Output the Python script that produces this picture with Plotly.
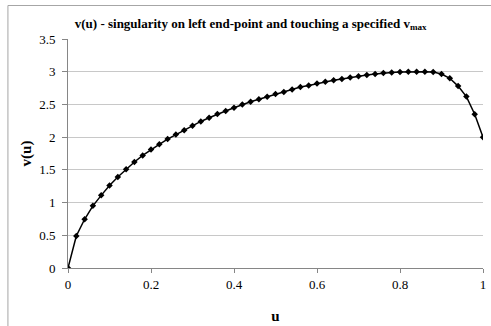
import plotly.graph_objects as go

u = [round(i * 0.02, 2) for i in range(51)]
v = [0.0, 0.49, 0.745, 0.95, 1.11, 1.26, 1.39, 1.51, 1.62, 1.72,
     1.81, 1.89, 1.97, 2.04, 2.107, 2.173, 2.24, 2.296, 2.352, 2.40,
     2.45, 2.50, 2.54, 2.58, 2.617, 2.66, 2.69, 2.73, 2.765, 2.79,
     2.82, 2.847, 2.87, 2.89, 2.913, 2.93, 2.95, 2.964, 2.98, 2.987,
     2.995, 2.998, 3.0, 3.0, 2.995, 2.965, 2.90, 2.78, 2.62, 2.35, 2.0]

x_ticks = [0, 0.2, 0.4, 0.6, 0.8, 1]
y_ticks = [0, 0.5, 1, 1.5, 2, 2.5, 3, 3.5]

W, H = 491, 326
L, R, T, B = 68, 5, 39, 58
pw, ph = W - L - R, H - T - B

def px(xp):
    return (xp - L) / pw

def py(yp):
    return (H - B - yp) / ph

font = "Liberation Serif"

fig = go.Figure()
fig.add_trace(go.Scatter(
    x=u, y=v, mode="lines+markers",
    line=dict(color="black", width=1.5),
    marker=dict(symbol="diamond", size=5, color="black"),
    showlegend=False, hoverinfo="skip",
))

fig.update_layout(
    width=W, height=H,
    margin=dict(l=L, r=R, t=T, b=B),
    paper_bgcolor="white", plot_bgcolor="white",
    font=dict(family=font, size=13, color="black"),
    title=dict(
        text="<b>v(u) - singularity on left end-point and touching a specified v<sub>max</sub></b>",
        font=dict(family=font, size=13, color="black"),
        xref="paper", x=px(252), xanchor="center",
        yref="container", y=1 - 23 / H, yanchor="middle",
    ),
    xaxis=dict(
        range=[0, 1], tickvals=x_ticks, ticktext=[f"{t:g}" for t in x_ticks],
        showgrid=False, zeroline=False,
        showline=True, linecolor="#868686", linewidth=1,
        ticks="outside", ticklen=4, tickcolor="#868686",
        tickfont=dict(family=font, size=13),
        title=dict(text="<b>u</b>", font=dict(family=font, size=15), standoff=19),
    ),
    yaxis=dict(
        range=[0, 3.5], tickvals=y_ticks, ticktext=[f"{t:g}" for t in y_ticks],
        showgrid=True, gridcolor="#c8c8c8", gridwidth=1, zeroline=False,
        showline=True, linecolor="#868686", linewidth=1,
        ticks="outside", ticklen=5, tickcolor="#868686",
        ticklabelstandoff=4,
        tickfont=dict(family=font, size=13),
        title=dict(text="<b>v(u)</b>", font=dict(family=font, size=15), standoff=3),
    ),
    shapes=[
        dict(type="line", xref="paper", yref="paper",
             x0=px(7.5), x1=px(495), y0=py(5.5), y1=py(5.5),
             line=dict(color="#a6a6a6", width=1)),
        dict(type="line", xref="paper", yref="paper",
             x0=px(7.5), x1=px(7.5), y0=py(5.5), y1=py(330),
             line=dict(color="#a6a6a6", width=1)),
    ],
)

fig.write_html("out.html")
